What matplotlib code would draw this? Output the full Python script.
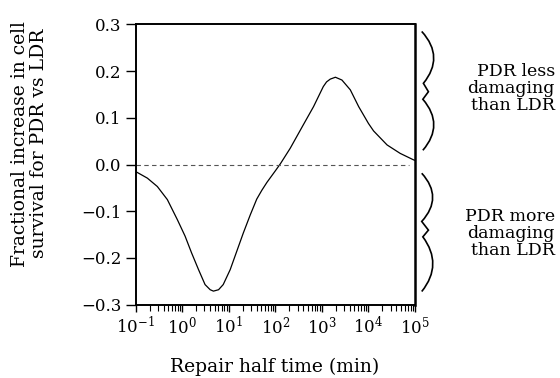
import numpy as np
import matplotlib
matplotlib.use("Agg")
import matplotlib.pyplot as plt
import matplotlib.path as mpath
import matplotlib.patches as mpatches
from matplotlib.ticker import LogLocator, FixedLocator, NullFormatter

plt.rcParams['font.family'] = ['DejaVu Serif']
plt.rcParams['mathtext.fontset'] = 'dejavuserif'

# log10 of repair half time (min) and fractional increase
log_t = np.array([-1.0, -0.75, -0.535, -0.32, -0.105, 0.06, 0.20, 0.35, 0.49, 0.60,
                  0.67, 0.78, 0.88, 1.03, 1.17, 1.31, 1.46, 1.60, 1.71, 1.82,
                  2.01, 2.11, 2.32, 2.60, 2.82, 3.03, 3.10, 3.18, 3.29, 3.43,
                  3.61, 3.79, 4.00, 4.11, 4.40, 4.68, 4.97, 5.0])
frac_inc = np.array([-0.015, -0.029, -0.047, -0.075, -0.118, -0.153, -0.189, -0.225, -0.257, -0.268,
                     -0.271, -0.268, -0.257, -0.225, -0.186, -0.147, -0.108, -0.074, -0.055, -0.038,
                     -0.012, 0.002, 0.035, 0.085, 0.124, 0.167, 0.177, 0.183, 0.187, 0.181,
                     0.160, 0.124, 0.088, 0.072, 0.042, 0.024, 0.010, 0.009])
t_min = 10.0 ** log_t

y_ticks = [-0.3, -0.2, -0.1, 0.0, 0.1, 0.2, 0.3]
y_labels = ['\u22120.3', '\u22120.2', '\u22120.1', '0.0', '0.1', '0.2', '0.3']

upper_text = "PDR less\ndamaging\nthan LDR"
lower_text = "PDR more\ndamaging\nthan LDR"

fig = plt.figure(figsize=(5.6, 3.78), dpi=100)
ax = fig.add_axes([0.2423, 0.194, 0.4988, 0.7413])

ax.plot(t_min, frac_inc, color='black', lw=0.9)
ax.axhline(0.0, xmin=0.0, xmax=0.98, color='#555555', lw=0.8, ls=(0, (4, 3)))

ax.set_xscale('log')
ax.set_xlim(0.1, 1e5)
ax.set_ylim(-0.3, 0.3)
ax.xaxis.set_major_locator(LogLocator(base=10, numticks=10))
ax.xaxis.set_minor_locator(LogLocator(base=10, subs=np.arange(2, 10), numticks=20))
ax.xaxis.set_minor_formatter(NullFormatter())
ax.yaxis.set_major_locator(FixedLocator(y_ticks))
ax.set_yticklabels(y_labels)

ax.tick_params(axis='y', which='major', direction='out', length=7, width=1.0,
               labelsize=12, pad=3)
ax.tick_params(axis='x', which='major', direction='out', length=5, width=1.0,
               labelsize=12, pad=3)
ax.tick_params(axis='x', which='minor', direction='out', length=4, width=0.8)

for side in ['left', 'bottom', 'top']:
    ax.spines[side].set_linewidth(1.4)
ax.spines['right'].set_linewidth(1.8)

fig.text(0.491, 0.017, "Repair half time (min)", ha='center', va='baseline', fontsize=13.5)
fig.text(0.053, 0.62, "Fractional increase in cell\nsurvival for PDR vs LDR",
         rotation=90, ha='center', va='center', fontsize=13.5, linespacing=1.1)


# curly braces outside the right spine (axes coordinates)
def brace(ax, top, z1, z2, z3, bottom, bulge):
    C = mpath.Path.CURVE4
    x0, y0 = top
    xa, ya = z1
    xb, yb = bottom
    xc, yc = z3
    verts = [top,
             (bulge, y0 - (y0 - ya) / 3), (bulge, ya + (y0 - ya) / 3), z1,
             z2, z3,
             (bulge, yc - (yc - yb) / 3), (bulge, yb + (yc - yb) / 3), bottom]
    codes = [mpath.Path.MOVETO, C, C, C, mpath.Path.LINETO, mpath.Path.LINETO, C, C, C]
    p = mpatches.PathPatch(mpath.Path(verts, codes), fill=False, lw=1.2,
                           transform=ax.transAxes, clip_on=False, color='black')
    ax.add_patch(p)


brace(ax, (1.024, 0.975), (1.030, 0.790), (1.048, 0.760), (1.028, 0.733), (1.028, 0.551), 1.080)
brace(ax, (1.024, 0.469), (1.024, 0.297), (1.048, 0.266), (1.028, 0.242), (1.024, 0.047), 1.076)

fig.text(0.991, 0.767, upper_text, ha='right', va='center', fontsize=12.5,
         linespacing=1.0, multialignment='right')
fig.text(0.991, 0.381, lower_text, ha='right', va='center', fontsize=12.5,
         linespacing=1.0, multialignment='right')

fig.savefig("out.png", dpi=100)
